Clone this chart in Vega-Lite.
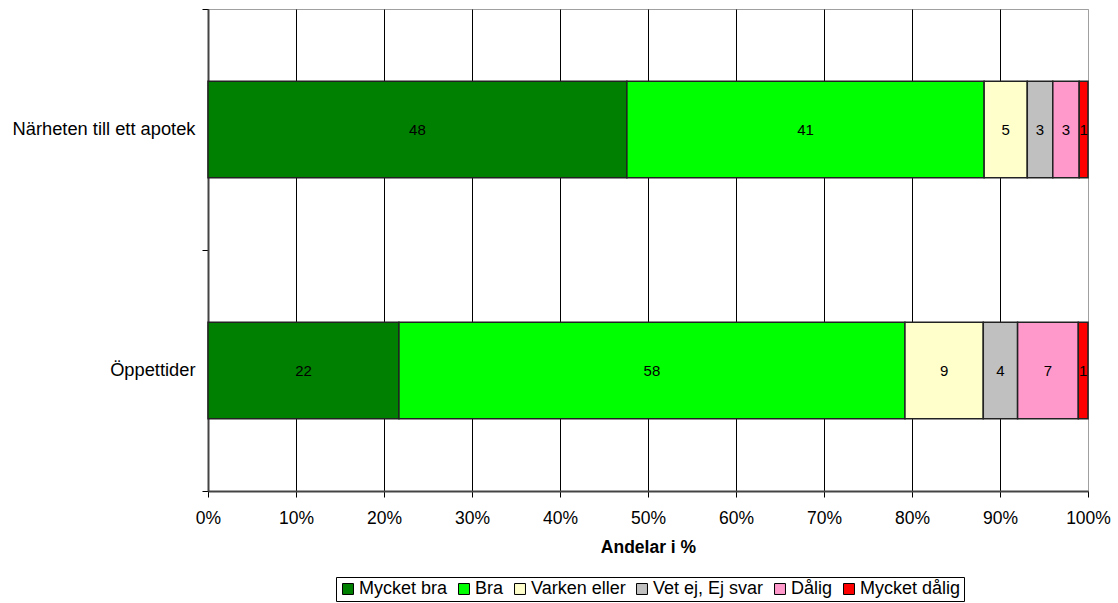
{
  "$schema": "https://vega.github.io/schema/vega-lite/v6.json",
  "autosize": "none",
  "width": 880,
  "height": 482,
  "padding": {"left": 208, "top": 9, "right": 30, "bottom": 112},
  "background": "white",
  "config": {
    "font": "Liberation Sans",
    "view": {"stroke": "#a0a0a0", "strokeWidth": 1},
    "axis": {"labelFont": "Liberation Sans", "titleFont": "Liberation Sans", "labelColor": "black", "titleColor": "black"}
  },
  "data": {
    "values": [
      {"kategori": "Närheten till ett apotek", "svar": "Mycket bra", "rank": 1, "andel": 47.6},
      {"kategori": "Närheten till ett apotek", "svar": "Bra", "rank": 2, "andel": 40.6},
      {"kategori": "Närheten till ett apotek", "svar": "Varken eller", "rank": 3, "andel": 4.9},
      {"kategori": "Närheten till ett apotek", "svar": "Vet ej, Ej svar", "rank": 4, "andel": 2.9},
      {"kategori": "Närheten till ett apotek", "svar": "Dålig", "rank": 5, "andel": 3.0},
      {"kategori": "Närheten till ett apotek", "svar": "Mycket dålig", "rank": 6, "andel": 1.0},
      {"kategori": "Öppettider", "svar": "Mycket bra", "rank": 1, "andel": 21.7},
      {"kategori": "Öppettider", "svar": "Bra", "rank": 2, "andel": 57.5},
      {"kategori": "Öppettider", "svar": "Varken eller", "rank": 3, "andel": 8.9},
      {"kategori": "Öppettider", "svar": "Vet ej, Ej svar", "rank": 4, "andel": 3.9},
      {"kategori": "Öppettider", "svar": "Dålig", "rank": 5, "andel": 6.9},
      {"kategori": "Öppettider", "svar": "Mycket dålig", "rank": 6, "andel": 1.1}
    ]
  },
  "transform": [
    {"stack": "andel", "groupby": ["kategori"], "sort": [{"field": "rank", "order": "ascending"}], "offset": "normalize", "as": ["x0", "x1"]},
    {"calculate": "(datum.x0 + datum.x1) / 2", "as": "xmid"}
  ],
  "encoding": {
    "y": {
      "field": "kategori",
      "type": "nominal",
      "sort": ["Närheten till ett apotek", "Öppettider"],
      "scale": {"paddingInner": 0, "paddingOuter": 0},
      "axis": {
        "title": null,
        "tickBand": "extent",
        "tickSize": 6,
        "tickColor": "black",
        "tickWidth": 1,
        "domainColor": "#444",
        "domainWidth": 2,
        "labelFontSize": 18.3,
        "labelPadding": 7,
        "labelLimit": 300,
        "grid": false
      }
    }
  },
  "layer": [
    {
      "mark": {"type": "bar", "height": {"band": 0.4}, "stroke": "#222", "strokeWidth": 1.5},
      "encoding": {
        "x": {
          "field": "x0",
          "type": "quantitative",
          "scale": {"domain": [0, 1], "nice": false},
          "axis": {
            "title": "Andelar i %",
            "format": ".0%",
            "values": [0, 0.1, 0.2, 0.3, 0.4, 0.5, 0.6, 0.7, 0.8, 0.9, 1],
            "grid": true,
            "gridColor": {"condition": {"test": "datum.value >= 1", "value": "#a0a0a0"}, "value": "black"},
            "gridWidth": 1,
            "gridOpacity": 1,
            "tickSize": 6,
            "tickColor": "black",
            "domainColor": "#444",
            "domainWidth": 2,
            "labelFontSize": 17.5,
            "labelPadding": 12,
            "labelFlush": false,
            "titleFontSize": 17.5,
            "titleFontWeight": "bold",
            "titlePadding": 12
          }
        },
        "x2": {"field": "x1"},
        "fill": {
          "field": "svar",
          "type": "nominal",
          "scale": {
            "domain": ["Mycket bra", "Bra", "Varken eller", "Vet ej, Ej svar", "Dålig", "Mycket dålig"],
            "range": ["#008000", "#00FF00", "#FFFFCC", "#C0C0C0", "#FF99CC", "#FF0000"]
          },
          "legend": {
            "title": null,
            "orient": "none",
            "legendX": 128,
            "legendY": 568,
            "direction": "horizontal",
            "columns": 6,
            "strokeColor": "black",
            "padding": 3,
            "symbolType": "square",
            "symbolSize": 120,
            "symbolStrokeColor": "black",
            "symbolStrokeWidth": 1,
            "symbolOpacity": 1,
            "labelFontSize": 18,
            "labelFont": "Liberation Sans",
            "labelColor": "black",
            "labelOffset": 2,
            "columnPadding": 7
          }
        }
      }
    },
    {
      "mark": {"type": "text", "fontSize": 15, "color": "black", "align": "center", "baseline": "middle", "font": "Liberation Sans"},
      "encoding": {
        "x": {"field": "xmid", "type": "quantitative"},
        "text": {"field": "andel", "type": "quantitative", "format": ".0f"}
      }
    }
  ]
}
